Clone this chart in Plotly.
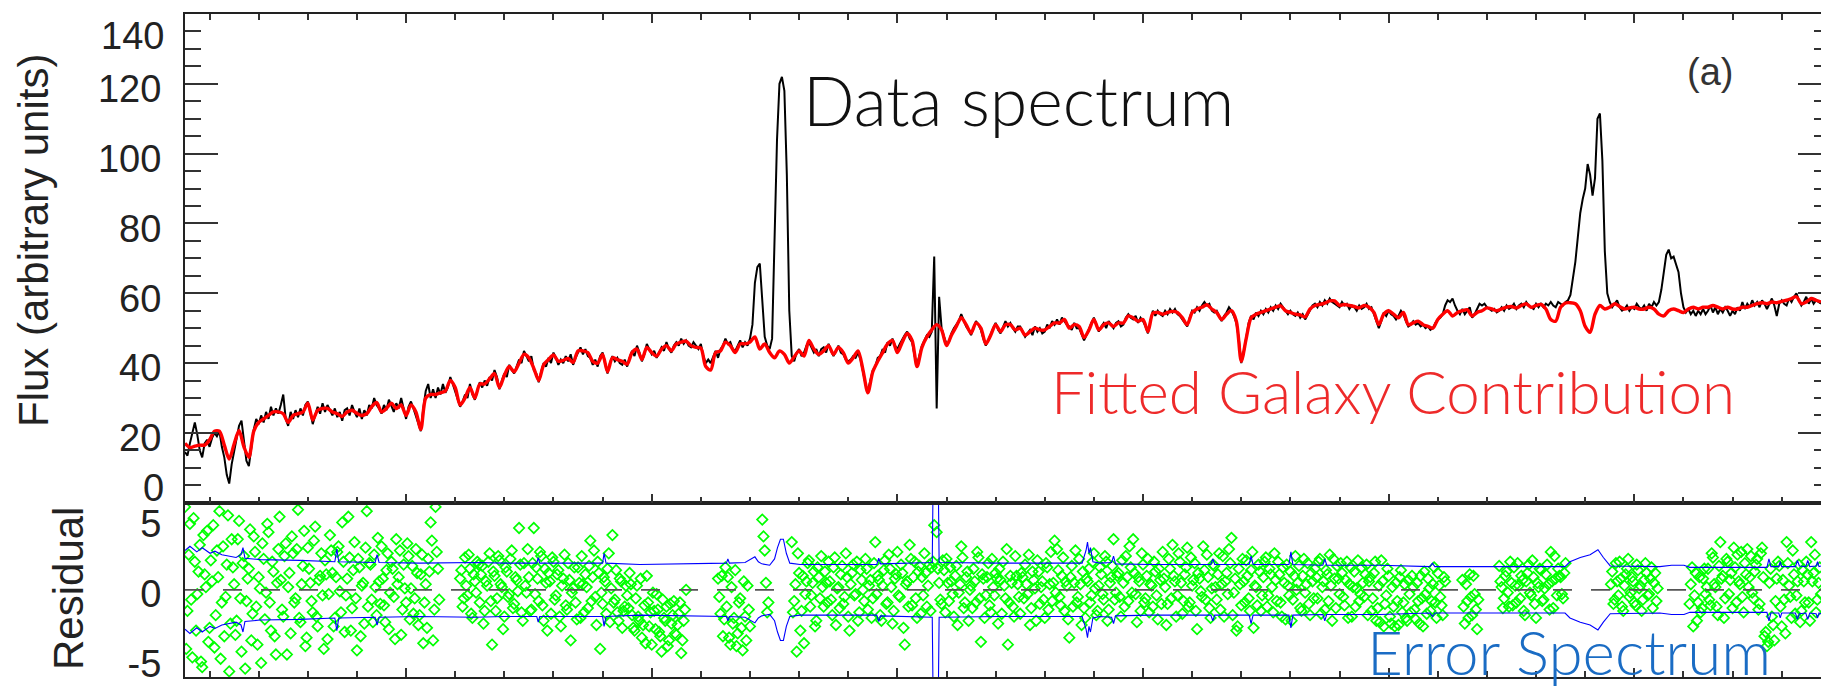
import plotly.graph_objects as go

# ---------------- data ----------------
wave_data = list(range(4050, 7381, 5))     # wavelength grid of the data / residuals (A)
wave_model = list(range(4050, 7381, 10))   # wavelength grid of the fitted galaxy model (A)
wave_resid_b = [w + 2.5 for w in wave_data[:-1]]   # interleaved residual pixels

data_flux = [
    14.5, 13.5, 17, 20, 23, 19.5, 15, 13, 17, 18, 16, 18.5, 20, 19, 20.5, 16, 13, 8, 5.5, 11,
    15, 19, 22, 23.5, 18, 12, 10.5, 16, 21, 24, 22.5, 25, 23, 26, 24, 27.5, 25, 27, 25.5, 28,
    31, 24, 22, 26, 24, 26.5, 24.5, 27, 25, 28, 29, 26, 22.5, 25, 27.5, 25.5, 28.5, 26, 28, 26.5,
    25, 27, 24.5, 26, 23.5, 26.5, 27, 25, 28, 26, 24.5, 27, 24, 26.5, 25, 28, 27, 30, 28, 27,
    25.5, 28, 26.5, 29.5, 28, 26, 28.5, 27, 30, 27, 24, 27.5, 29, 27, 25, 23, 20.5, 27, 32, 34,
    30, 32.5, 30, 33, 31, 34, 31.5, 33, 36, 34, 32, 30, 27.5, 29, 31, 30, 34, 31, 29.5, 32,
    34.5, 33, 35, 33.5, 36, 35, 38, 36, 32.5, 35, 37, 36, 39.5, 38, 37, 39, 41, 40, 43.5, 42,
    40.5, 42, 38, 37, 34.5, 37.5, 40, 39, 41.5, 40, 43, 41.5, 39.5, 41, 40, 42, 40.5, 42.5, 39.5, 41.5,
    43, 44.5, 42.5, 44, 42, 41.5, 39.5, 41, 39, 42, 43, 40, 37, 40, 42, 40.5, 41.5, 40, 39.5, 41,
    39, 41.5, 43.5, 42, 45, 43, 40.5, 42.5, 45.5, 44, 42.5, 43.5, 41.5, 43, 44.5, 43.5, 46, 44, 43, 45,
    46, 45, 47, 45.5, 46.5, 45, 44.5, 46, 45, 44, 45.5, 42, 40, 41, 40, 42, 43.5, 41.5, 44, 45,
    47, 45.5, 46, 44, 43.5, 45, 46.5, 44.5, 46, 45, 47, 51, 63, 67.5, 68.5, 58, 47.5, 45, 44, 47,
    74, 104, 120, 122, 118, 94, 55, 42, 40.5, 43, 44, 42, 43, 45, 46, 44.5, 43, 44, 42, 44,
    44.5, 43, 45.5, 43.5, 42, 43.5, 45, 43, 42.5, 41, 40.5, 41, 42, 41.5, 43, 41, 37, 34, 32, 35,
    38, 39, 41.5, 42, 44, 43, 46, 45, 47, 45, 44, 45.5, 47, 48, 49, 47, 46, 42, 39.5, 42,
    45, 46.5, 48, 47.5, 49, 70.5, 27, 59, 50, 47.5, 45.5, 46, 48.5, 50, 51, 52, 54, 52, 50.5, 49.5,
    48, 50, 52, 51, 49.5, 47, 45, 46.5, 48.5, 50, 51.5, 49.5, 48.5, 50, 52, 50.5, 51.5, 50, 49, 50.5,
    50.5, 49, 47.5, 48.5, 49.5, 48, 50.5, 49, 50, 48.5, 49, 51, 50, 52, 51, 52.5, 51, 53, 52, 51,
    50.5, 49.5, 51.5, 50, 50, 48.5, 46.5, 48, 50, 51.5, 53, 51, 49, 50.5, 51.5, 50, 52, 51, 50, 51.5,
    52, 50.5, 51, 53, 54, 53, 52.5, 53.5, 51.5, 53, 52, 50.5, 48.5, 52, 55, 53.5, 55, 54, 53.5, 55,
    54, 55.5, 54.5, 55.5, 54, 53.5, 52.5, 51.5, 50.5, 53, 55, 54.5, 56, 55, 56.5, 57.5, 56.5, 57, 55, 54.5,
    55, 53.5, 52, 53.5, 54.5, 56, 55, 53.5, 51.5, 47, 40, 43, 48, 51.5, 53.5, 52.5, 54.5, 53.5, 55, 54,
    55.5, 54.5, 56, 55, 56.5, 55.5, 57, 56, 55, 54, 55, 54, 53.5, 54.5, 53, 54, 52.5, 54, 55.5, 56.5,
    57, 56, 57.5, 56.5, 58, 57, 58.5, 57.5, 57, 56.5, 56, 57.5, 56.5, 57, 55.5, 56.5, 56, 55, 56.5, 55.5,
    56, 57, 55.5, 56, 54, 52.5, 50, 52, 54.5, 53.5, 55, 54, 53.5, 52.5, 53.5, 55, 54, 52, 50.5, 51,
    52, 51, 51.5, 50.5, 51, 50, 50.5, 49.5, 50, 51.5, 52.5, 53, 54, 56.5, 58, 57.5, 58.5, 56.5, 55, 54,
    55.5, 54, 55, 56, 53, 54, 55.5, 57, 56.5, 57, 56, 55.5, 55, 55.5, 54.5, 55, 56, 55, 56.5, 55.5,
    56, 57, 55.5, 56.5, 57, 56, 57.5, 56.5, 56, 55.5, 57, 56, 57, 56, 57, 56.5, 57.5, 56.5, 56, 57.5,
    57, 56.5, 57.5, 58, 59.5, 64, 69, 76, 83, 87, 90, 97, 94, 88, 93, 110, 111.5, 98, 72, 60,
    57.5, 56, 57, 58, 56, 55, 55.5, 56.5, 55, 56, 55.5, 57, 56, 55.5, 56.5, 55, 57, 56, 57.5, 56.5,
    57.5, 61, 66, 71, 72.5, 70, 70.5, 68.5, 66, 60, 56, 54.5, 55.5, 54, 55, 53.5, 55, 54, 55.5, 54,
    55, 56.5, 54.5, 56, 54, 55.5, 54.5, 56, 55, 53.5, 55, 54, 56, 55, 57.5, 55.5, 57, 56, 58, 56.5,
    57.5, 56, 58, 57, 55.5, 57, 58.5, 56.5, 53.5, 57, 58, 57, 56.5, 58.5, 57.5, 59, 60, 58, 56.5, 57.5,
    59, 57, 58.5, 57, 58, 57.5, 57,
]

model_flux = [
    17.0, 15.8, 16.2, 16.5, 16.5, 18.0, 20.5, 20.5, 16.5, 12.5,
    16.8, 20.7, 16.0, 13.0, 20.5, 23.0, 24.0, 25.0, 26.0, 26.0,
    25.5, 23.0, 25.0, 25.5, 26.0, 28.5, 23.7, 26.5, 27.0, 27.0,
    26.0, 25.5, 24.7, 26.0, 26.5, 25.6, 25.0, 25.5, 27.5, 28.7,
    26.0, 27.0, 28.5, 27.0, 28.0, 25.0, 28.0, 26.0, 21.0, 30.0,
    31.0, 31.0, 31.5, 32.0, 35.0, 33.0, 28.0, 30.0, 33.0, 30.0,
    34.0, 34.0, 35.5, 37.0, 33.0, 36.5, 39.0, 37.5, 40.0, 42.5,
    41.5, 38.5, 35.0, 39.5, 41.0, 42.3, 40.5, 40.8, 41.3, 40.2,
    43.5, 43.5, 43.0, 40.5, 40.0, 42.5, 37.5, 41.5, 41.0, 40.5,
    39.7, 43.0, 44.0, 41.0, 44.5, 43.0, 42.0, 44.0, 45.0, 43.5,
    45.5, 46.0, 46.3, 45.0, 44.5, 44.3, 39.0, 38.0, 43.0, 43.5,
    46.0, 45.0, 43.0, 45.5, 45.5, 46.0, 47.5, 44.0, 45.5, 43.0,
    41.5, 43.5, 42.5, 40.0, 41.8, 43.5, 42.0, 46.5, 44.0, 42.5,
    43.5, 45.0, 42.5, 44.5, 43.0, 40.0, 41.5, 43.5, 38.0, 31.5,
    37.5, 40.5, 43.0, 45.5, 46.5, 43.0, 46.0, 48.5, 46.5, 39.0,
    44.5, 47.5, 49.5, 51.0, 49.5, 45.0, 48.0, 50.5, 53.0, 51.0,
    48.6, 51.5, 50.0, 45.5, 48.0, 51.0, 49.0, 51.0, 51.0, 49.5,
    50.0, 48.0, 49.0, 50.0, 49.5, 49.5, 50.5, 51.5, 51.5, 52.5,
    50.0, 51.0, 50.5, 47.3, 49.5, 52.5, 49.5, 51.0, 51.5, 50.5,
    51.5, 51.5, 53.5, 53.0, 52.0, 52.5, 49.0, 54.3, 54.5, 54.0,
    54.5, 54.8, 54.5, 53.0, 51.0, 54.5, 55.5, 56.0, 56.7, 55.5,
    54.5, 52.5, 54.0, 55.0, 52.0, 40.5, 47.0, 53.0, 54.0, 54.5,
    55.0, 55.5, 56.0, 56.4, 55.0, 54.5, 54.0, 53.8, 53.2, 55.5,
    56.5, 56.8, 57.2, 57.8, 57.8, 56.5, 56.8, 56.5, 56.2, 55.8,
    56.5, 56.0, 54.5, 51.0, 54.0, 55.0, 54.0, 53.0, 54.5, 51.0,
    51.5, 52.0, 51.0, 50.5, 50.0, 52.5, 54.0, 55.0, 53.5, 54.5,
    55.0, 55.3, 53.5, 54.5, 55.0, 55.8, 55.5, 55.0, 55.5, 56.0,
    56.2, 55.8, 56.5, 57.0, 56.0, 56.5, 56.8, 55.5, 52.5, 52.0,
    56.0, 57.2, 57.3, 57.0, 55.0, 50.5, 48.8, 54.0, 56.5, 55.5,
    56.0, 57.0, 56.2, 55.5, 55.8, 56.0, 55.5, 55.5, 56.0, 55.5,
    54.0, 53.5, 55.0, 55.5, 55.0, 54.5, 55.5, 56.0, 55.5, 56.0,
    56.0, 56.5, 56.0, 55.5, 56.0, 55.5, 55.5, 56.0, 56.0, 56.5,
    57.0, 57.3, 57.0, 57.5, 57.3, 57.7, 58.0, 58.5, 59.0, 57.0,
    57.5, 58.5, 58.0, 57.5,
]

residual = [
    5.9, -1.5, 4.7, -4.8, 2.0, -0.3, 3.2, -5.5, 1.1, 4.2, -2.7, 0.6, -4.1, 2.8, 5.6, -0.9, -3.3, 1.8, -5.8, 3.6,
    0.4, -2.2, 4.9, -4.4, 2.4, -0.8, 1.5, -3.6, 3.8, -1.2, 0.9, -5.2, 2.2, -0.2, 4.1, -2.9, 1.3, -4.6, 2.9, 0.7,
    -1.9, 3.3, 0.2, -3.1, 2.6, -0.6, 5.7, -2.3, 1.7, -4.0, 3.0, 0.5, -1.6, 4.5, -2.6, 1.0, -0.4, 2.1, -3.5, 3.9,
    1.2, -2.0, 2.7, -0.1, 4.8, -3.0, 0.8, 2.3, -1.3, 3.4, -4.3, 1.6, 0.3, -2.4, 5.6, 1.9, -0.7, 2.5, -1.8, 0.6,
    3.1, -1.1, 1.4, -2.8, 2.0, -0.5, 3.6, 0.9, -3.2, 1.8, -0.9, 2.4, 0.1, -1.7, 2.9, -2.5, 1.1, -3.8, 0.4, 2.2,
    4.8, -3.6, 5.9, 1.5, None, None, None, None, None, None, None, None, 0.8, -1.2, 2.3, -0.4, 1.5, -2.0, 0.6, 2.0,
    -0.9, 1.7, -1.5, 0.3, 2.6, -3.9, 1.0, -0.6, 2.1, 0.2, -1.9, 1.3, -0.3, 2.8, -1.0, 0.7, 4.4, -1.6, 1.9, -0.2,
    0.9, -1.4, 4.4, 1.6, -0.8, 2.4, -2.2, 0.5, 1.2, -1.7, 2.0, -0.4, 1.4, -2.6, 0.8, -1.1, 1.9, -3.6, 0.1, -0.9,
    1.6, -2.0, 0.4, 1.1, -1.3, 3.5, 0.9, -0.5, 2.0, -4.2, -1.0, 0.6, 1.5, -2.3, 3.9, -0.7, -1.6, 0.8, -2.7, -1.2,
    -0.4, 1.2, -1.8, -2.9, 0.3, -2.2, -3.4, -1.1, 1.0, -2.6, -3.9, -1.5, -0.3, -3.0, -4.4, -2.0, -1.2, -3.6, -2.4, -0.8,
    -3.2, -1.7, -4.5, -2.2, 0.0, None, None, None, None, None, None, None, None, None, None, None, None, 0.8, -1.7, -3.3,
    1.6, 0.9, -3.9, -2.4, 1.4, -3.1, -0.6, -4.3, -1.9, 0.3, -2.6, None, None, None, None, 5.0, 2.8, -1.6, None, None,
    None, None, None, None, None, None, None, 3.4, -0.8, -4.4, 1.2, -1.5, -3.8, 0.6, 2.1, -0.4, 1.3, -2.2, 0.9, 2.4,
    -1.2, 0.5, 2.0, -0.7, 1.6, -2.5, 0.2, 1.1, -1.0, 2.6, -1.9, 0.4, 1.8, -0.3, -2.2, 1.4, 0.0, 2.2, -1.4, 0.7,
    -0.6, 3.4, 1.0, -1.8, 0.3, 2.1, -0.9, 1.5, -2.4, 0.8, 2.7, -0.5, 1.2, -3.9, 0.6, 3.2, -1.1, 2.0, -2.0, 1.7,
    0.9, 2.6, -1.2, 1.8, 1.6, 4.6, 4.1, 0.5, -1.0, 1.4, 2.2, -0.8, 0.6, -1.9, 1.7, -0.2, 3.1, -1.3, 0.9, -2.2,
    0.3, 1.5, -0.9, 2.3, -3.7, 0.8, -0.4, 1.9, -1.6, 0.2, 1.2, -2.4, 0.7, 2.0, -0.6, -3.9, 1.0, -1.2, 2.4, 0.4,
    -1.7, 0.9, 1.8, -0.3, -2.5, 1.3, 0.1, 2.1, -1.0, 0.6, -2.0, 1.6, 0.4, -0.8, 3.5, 2.9, -0.5, 1.0, -1.5, 0.3,
    -3.4, 1.7, 0.5, -0.9, 2.2, -2.5, -1.3, 0.8, 1.5, -0.4, 2.6, -1.8, 0.3, 1.1, -0.7, 2.0, -1.4, 0.9, 3.6, -0.2,
    1.2, -1.9, 0.5, 2.4, -0.8, 1.6, 3.6, -0.3, 0.9, -1.5, 1.8, -0.6, 2.2, 0.4, -1.2, 1.3, -2.1, 0.7, 2.7, 0.2,
    -1.0, 1.5, 3.2, 0.6, -0.4, 2.0, -1.7, 1.1, 3.0, -0.9, 0.3, 1.9, -2.8, 0.8, -0.5, 1.4, 2.5, -1.3, 0.1, 1.7,
    -0.7, 2.6, 0.4, -1.9, 1.2, 2.9, 3.7, -0.2, -2.9, 1.5, -1.1, 0.6, 2.1, -0.6, 1.4, -2.7, 0.2, 1.8, -1.5, 0.9,
    2.3, -0.4, 1.1, -1.6, 0.7, 2.0, -0.9, 1.6, -2.1, 0.3, 1.3, -0.7, 2.4, 0.5, -1.3, 1.0, -0.2, 1.9, -1.8, 0.6,
    1.5, -0.6, 2.2, 0.2, -1.4, 1.1, 2.5, -2.2, 0.8, 1.7, -0.3, 1.2, -1.1, 2.0, 0.4, -1.9, 1.3, 0.1, -0.8, 1.6,
    -0.5, 1.8, 0.6, -1.5, 1.2, -2.2, 0.3, 2.1, -2.6, -0.4, 1.0, -2.4, -1.2, 0.5, -2.5, 1.4, -0.9, -2.0, 0.7, -1.6,
    0.2, -2.1, -0.8, 1.0, -2.6, -0.3, 0.8, -1.5, 0.4, -0.9, 1.2, -0.5, -1.8, 0.6, None, None, None, None, None, None,
    0.7, -2.4, -0.8, 1.1, -1.8, -0.3, -2.8, None, None, None, None, None, None, None, None, 1.7, 0.2, -0.6, 1.3, -1.2,
    0.5, 1.6, -0.9, 0.3, 1.0, -1.5, 0.6, 1.8, -0.4, 0.9, -2.0, 0.2, 1.4, -0.7, 1.1, 0.4, 2.7, -1.3, 0.8, 1.5,
    0.9, -0.6, 1.9, None, None, None, None, None, None, None, None, None, None, None, None, None, None, None, None, None,
    None, 1.3, -0.7, 0.6, 2.0, -1.2, 0.3, 1.5, -0.5, 0.9, -0.9, 1.8, 0.1, -1.5, 0.7, 1.2, -0.3, 1.6, 0.5, -0.8,
    None, None, None, None, None, None, None, None, None, None, None, None, None, 0.4, -2.6, 1.2, -0.9, -1.6, 0.8, -0.3,
    1.5, -1.1, 2.3, 0.2, -1.8, 3.4, 1.0, -0.6, 2.0, 0.7, -1.3, 1.6, 2.5, 0.4, -0.5, 1.9, 2.9, 0.9, -0.2, 1.3,
    2.2, -1.0, 3.0, -3.3, -4.0, 0.5, -1.9, -3.6, 0.8, 1.7, -2.6, -0.7, 3.4, 0.3, -2.0, 1.1, -0.4, 1.8, -1.5, 0.6,
    2.0, -0.9, 3.4, 1.2, -1.6, 0.5, -0.3,
]

residual_b = [
    -4.2, 2.5, -0.7, 5.1, -2.9, 1.3, -5.1, 3.9, 0.2, -3.7, 2.1, 4.6, -1.8, 0.9, -4.9, 3.1, -0.5, 5.3, -2.4, 1.6,
    -3.2, 3.6, -0.6, 1.9, -5.6, 0.8, 4.3, -1.7, 2.7, -3.9, 0.1, 3.3, -2.1, 4.7, -0.9, 2.0, -3.3, 0.5, 5.2, -1.4,
    2.4, -4.6, 1.2, 3.8, -0.9, 2.9, -2.0, 0.4, 4.2, -3.4, 1.5, -0.8, 3.5, -1.9, 0.7, 2.6, -4.2, 1.1, -0.3, 2.8,
    -2.6, 0.9, 3.1, -1.6, 2.0, -0.4, 5.2, -2.9, 1.4, -0.6, 2.2, -3.3, 0.5, 3.0, -1.2, 1.8, -2.3, 0.2, 3.7, -1.0,
    0.8, -2.3, 2.6, -0.2, 1.5, -3.5, 0.4, 2.8, -1.4, 0.1, 3.3, -2.1, 1.7, -0.6, 1.2, -1.8, 2.5, -0.9, -2.7, 1.3,
    3.5, -1.4, 2.7, -0.7, None, None, None, None, None, None, None, None, 1.4, -0.6, 0.3, 2.5, -1.7, 1.1, -0.2, 1.8,
    1.1, -2.4, 0.6, 2.0, -0.8, 1.3, -1.5, 2.4, 0.4, -2.8, 1.6, -0.5, 2.2, -1.3, 0.9, -0.1, 1.8, -2.2, 0.3, 2.9,
    -1.5, 1.9, -0.3, 0.8, 2.7, -1.1, 1.5, -2.9, 0.6, 2.3, -0.7, 1.1, -1.9, 0.3, 2.5, -1.4, 0.7, -0.2, 1.6, -2.1,
    0.5, 2.4, -1.6, 0.2, 1.7, -0.8, 2.8, -2.5, 1.2, -0.2, 0.9, -1.7, 2.6, 0.1, -0.9, 1.4, -2.2, 0.6, -1.5, 0.3,
    -1.3, 0.4, -2.7, -0.6, -1.9, 0.8, -2.5, -3.8, -0.9, -1.6, -0.2, -2.8, -1.4, -3.3, -0.7, -2.2, -4.0, -1.0, -1.8, -3.1,
    -2.5, -0.9, -3.6, -1.4, None, None, None, None, None, None, None, None, None, None, None, None, None, -0.5, 1.0, -2.1,
    -1.2, -3.4, 0.2, -2.0, -4.0, -0.9, -2.7, 0.6, -3.6, -1.4, None, None, None, None, None, 3.8, 0.5, -0.9, None, None,
    None, None, None, None, None, None, None, -1.6, 0.4, 2.6, -2.9, 1.0, -0.3, 1.9, -1.2, 0.5, -2.6, 1.6, -0.6, 0.2,
    1.3, -0.9, 0.6, -1.8, 2.3, 0.1, -1.3, 1.7, -0.5, 0.9, -2.9, 1.2, -0.4, 2.0, -1.6, 0.7, -0.8, 1.5, 0.3, -2.0,
    1.9, -0.3, 0.7, -2.2, 1.4, -1.0, 2.5, 0.2, -1.5, 1.1, -0.4, 1.8, -2.7, 0.4, -1.2, 2.2, 0.9, -0.6, 1.3, -1.7,
    -0.4, 1.2, 0.3, -1.5, 2.0, None, 1.5, -0.7, 2.1, -1.6, 0.5, 1.6, -0.3, 1.0, -2.5, 0.4, 2.3, -0.9, 1.3, 0.0,
    -1.3, 0.6, 2.7, -0.6, 1.1, -2.0, 0.9, -1.1, 2.2, -0.4, 0.8, 1.5, -1.7, 0.3, 2.9, -0.9, 0.5, -1.9, 1.0, -0.5,
    1.2, -0.6, 0.4, 2.5, -1.3, 0.7, -2.2, 1.3, 0.2, -0.7, 1.9, -1.4, 2.7, 0.5, -0.2, 1.4, -1.1, 2.3, 0.6, -2.1,
    0.9, -1.2, 2.8, -0.5, 0.4, 1.3, -2.0, 0.6, -0.9, 2.0, 0.1, -1.5, 1.6, -0.3, 2.4, -2.2, 0.5, 1.7, -0.7, 1.0,
    -0.5, 2.1, -1.2, 0.9, 3.1, -0.2, 1.2, -2.3, 0.6, 2.6, -0.9, 1.0, -1.6, 0.3, 2.0, -0.4, 1.5, -1.0, 0.8, -2.5,
    2.2, -0.6, 1.0, -1.9, 2.6, 0.5, -0.8, 1.6, -1.2, 2.3, 0.7, -1.5, 1.2, -0.1, 3.1, -0.7, 0.9, -2.0, 1.8, 0.2,
    1.1, -1.4, 2.4, 0.6, -0.3, 1.9, -1.8, 0.8, -2.6, 0.4, 2.2, -0.9, 1.0, -1.5, 2.7, 0.3, -1.1, 1.3, -0.4, 2.0,
    -1.2, 1.5, 0.2, 2.6, -0.8, 1.1, -1.9, 0.5, 1.8, -0.4, -2.2, 1.0, 0.0, 1.7, -1.5, 2.2, 0.4, -1.0, 1.2, -0.6,
    0.9, 2.0, -1.7, 0.6, 1.4, -0.8, 0.3, 2.2, -1.3, 0.8, 1.9, -0.5, 0.7, -2.0, 1.6, 0.2, -1.2, 2.1, -0.3, 0.5,
    1.1, -1.8, 0.9, -0.6, 2.0, -1.3, -2.3, 0.6, -1.0, 1.5, -1.9, 0.2, -2.6, -0.8, 0.9, -1.6, 0.4, -2.2, -0.3, 1.0,
    -1.4, 0.5, -2.4, -0.6, 1.3, -1.7, 0.1, -0.8, 1.6, -2.0, 0.3, -1.1, 0.9, None, None, None, None, None, None, None,
    -1.2, 0.4, -2.0, -0.5, 1.0, -1.4, -0.7, None, None, None, None, None, None, None, None, 0.6, -1.3, 1.0, -0.2, 2.0,
    -1.1, 0.3, 1.9, -0.6, 0.7, -1.8, 1.2, -0.2, 2.1, -1.0, 0.5, 1.5, -0.8, 0.1, 1.8, -1.4, 0.6, 2.4, -0.4, 1.0,
    -0.3, 1.2, None, None, None, None, None, None, None, None, None, None, None, None, None, None, None, None, None, None,
    0.4, -1.0, 1.9, -0.4, 0.8, -1.5, 1.1, 2.2, -0.2, 0.6, -1.1, 1.4, 0.3, -0.7, 1.9, -0.4, 0.8, -1.3, 1.2, 0.1,
    None, None, None, None, None, None, None, None, None, None, None, None, -1.0, 1.6, -0.4, -2.2, 0.9, -1.3, 1.5, 0.2,
    -0.7, 2.6, 0.4, -1.2, 1.7, 0.8, -2.0, 2.2, -0.3, 1.2, 3.0, -0.9, 0.6, 2.7, -1.6, 1.1, 0.2, 2.4, -0.6, 1.8,
    -1.4, 2.6, 0.9, -3.0, -3.7, 1.5, -2.5, -0.8, 2.0, -1.2, 0.7, -3.1, 1.9, -0.5, 2.8, -1.7, 0.6, -2.3, 1.4, -0.9,
    1.1, -2.2, 0.6, 2.5, -0.7, 1.6,
]

err_wave = [4050, 4060, 4074, 4085, 4101, 4111, 4125, 4138, 4154, 4164, 4168, 4172, 4203, 4284,
            4355, 4359, 4363, 4437, 4441, 4445, 4528, 4640, 4700, 4766, 4769, 4772, 4860, 4900,
            4903, 4907, 4976, 5098, 5152, 5155, 5158, 5190, 5203, 5210, 5217, 5224, 5240, 5250,
            5256, 5262, 5268, 5274, 5281, 5302, 5458, 5462, 5466, 5556, 5571, 5574, 5582, 5585,
            5709, 5876, 5884, 5887, 5890, 5893, 5898, 5912, 5936, 5940, 5944, 6014, 6138, 6142,
            6146, 6216, 6220, 6224, 6297, 6301, 6305, 6366, 6370, 6374, 6482, 6584, 6589, 6594,
            6727, 6859, 6869, 6890, 6910, 6926, 6937, 6951, 7052, 7076, 7101, 7113, 7215, 7270,
            7274, 7278, 7294, 7297, 7300, 7328, 7332, 7336, 7349, 7353, 7357, 7370, 7373, 7376, 7380]
err_val = [2.8, 3.1, 2.7, 3.0, 2.6, 2.75, 2.5, 2.4, 2.3, 2.5, 3.0, 2.25, 2.15, 2.1,
           2.0, 2.9, 2.0, 1.95, 2.5, 1.95, 1.9, 1.95, 1.9, 1.9, 2.3, 1.9, 1.9, 1.9,
           2.6, 1.9, 1.8, 1.85, 1.9, 2.2, 1.9, 1.95, 2.2, 2.35, 2.0, 1.85, 1.75, 2.2,
           3.0, 3.6, 3.6, 2.6, 1.9, 1.8, 1.8, 2.25, 1.85, 1.9, 1.95, 12.0, 12.0, 1.95,
           1.9, 1.9, 2.8, 3.4, 2.6, 3.0, 2.0, 1.9, 1.95, 2.4, 1.85, 1.8, 1.8, 2.2,
           1.8, 1.8, 2.4, 1.8, 1.8, 2.7, 1.8, 1.75, 2.2, 1.75, 1.75, 1.65, 1.9, 1.65,
           1.65, 1.65, 2.0, 2.3, 2.5, 2.85, 2.3, 1.7, 1.65, 1.75, 1.75, 1.6, 1.6, 1.6,
           2.2, 1.65, 1.65, 2.0, 1.65, 1.65, 2.1, 1.7, 1.65, 2.1, 1.65, 1.7, 2.0, 1.65, 1.7]

flux_ticks = [20, 40, 60, 80, 100, 120]
flux_edge_ticks = [0, 140]
resid_ticks = [5, 0, -5]
resid_ticktext = ["5", "0", "-5"]

assert len(data_flux) == len(wave_data), len(data_flux)
assert len(residual) == len(wave_data), len(residual)
assert len(residual_b) == len(wave_resid_b), len(residual_b)
assert len(model_flux) == len(wave_model), len(model_flux)
assert len(err_wave) == len(err_val), (len(err_wave), len(err_val))

# ---------------- layout geometry ----------------
W, H = 1822, 690
ML, MR, MT, MB = 185, 1, 14, 13
PW, PH = W - ML - MR, H - MT - MB
SPLIT = (H - MB - 502.7) / PH          # bottom of the flux panel (paper units)


def px(x):
    return (x - ML) / PW


def py(y):
    return (H - MB - y) / PH


AXFONT = dict(family="Liberation Sans, Arial, sans-serif", size=38, color="#222")
TXTFONT = "Lato, Open Sans, sans-serif"
XR = [wave_data[0], wave_data[-1]]
GREEN = "#00ff00"

fig = go.Figure()

# flux panel
fig.add_trace(go.Scatter(x=wave_data, y=data_flux, xaxis="x2", yaxis="y2", mode="lines",
                         line=dict(color="black", width=2.0), hoverinfo="skip"))
fig.add_trace(go.Scatter(x=wave_model, y=model_flux, xaxis="x2", yaxis="y2", mode="lines",
                         line=dict(color="#ff0000", width=3.4, shape="spline", smoothing=0.8),
                         hoverinfo="skip"))
# dummy trace to realise the right-hand tick axis
fig.add_trace(go.Scatter(x=XR, y=[0, 0], xaxis="x2", yaxis="y3", mode="lines",
                         line=dict(width=0), hoverinfo="skip"))

# residual panel
for xs, ys in ((wave_data, residual), (wave_resid_b, residual_b)):
    fig.add_trace(go.Scatter(x=xs, y=ys, xaxis="x", yaxis="y", mode="markers",
                             marker=dict(symbol="diamond-open", size=8, color=GREEN,
                                         line=dict(width=1.7, color=GREEN)),
                             hoverinfo="skip"))
fig.add_trace(go.Scatter(x=err_wave, y=err_val, xaxis="x", yaxis="y", mode="lines",
                         line=dict(color="#0000ff", width=1.1), hoverinfo="skip"))
fig.add_trace(go.Scatter(x=err_wave, y=[-v for v in err_val], xaxis="x", yaxis="y", mode="lines",
                         line=dict(color="#0000ff", width=1.1), hoverinfo="skip"))
fig.add_trace(go.Scatter(x=XR, y=[0, 0], xaxis="x", yaxis="y", mode="lines",
                         line=dict(color="#555", width=1.6, dash="19px,19px"), hoverinfo="skip"))

xcommon = dict(range=XR, tickmode="linear", tick0=4500, dtick=500, ticks="inside", ticklen=9,
               tickwidth=1.5, tickcolor="#333", showticklabels=False, showline=True,
               linecolor="#222", linewidth=2, showgrid=False, zeroline=False,
               minor=dict(tickmode="linear", tick0=4000, dtick=100, ticks="inside", ticklen=6,
                          tickwidth=1.5, tickcolor="#333"))

fig.update_layout(
    width=W, height=H, margin=dict(l=ML, r=MR, t=MT, b=MB),
    paper_bgcolor="white", plot_bgcolor="white", showlegend=False,
    xaxis=dict(domain=[0, 1], anchor="y", mirror=True, **xcommon),
    xaxis2=dict(domain=[0, 1], anchor="y2", matches="x", mirror="ticks", **xcommon),
    yaxis=dict(domain=[0, SPLIT], anchor="x", range=[-6.2, 6.2], tickmode="array",
               tickvals=resid_ticks, ticktext=resid_ticktext, ticks="", showline=True,
               linecolor="#222", linewidth=2, mirror=False, showgrid=False, zeroline=False,
               tickfont=AXFONT, ticklabelshift=4, ticklabelstandoff=14),
    yaxis2=dict(domain=[SPLIT, 1], anchor="x2", range=[0, 140], tickmode="array",
                tickvals=flux_ticks, ticktext=[str(v) for v in flux_ticks], ticks="inside",
                ticklen=33, tickwidth=1.5, tickcolor="#333", showline=True, linecolor="#222",
                linewidth=2, mirror=False, showgrid=False, zeroline=False, tickfont=AXFONT,
                ticklabelshift=5, ticklabelstandoff=14,
                minor=dict(tickmode="linear", tick0=0, dtick=5, ticks="inside", ticklen=16,
                           tickwidth=1.5, tickcolor="#333")),
    yaxis3=dict(overlaying="y2", anchor="x2", side="right", range=[0, 140], tickmode="linear",
                tick0=0, dtick=20, ticks="inside", ticklen=23, tickwidth=1.5, tickcolor="#333",
                showticklabels=False, showline=False, showgrid=False, zeroline=False,
                minor=dict(tickmode="linear", tick0=0, dtick=5, ticks="inside", ticklen=7,
                           tickwidth=1.5, tickcolor="#333")),
)

ann = []
# edge labels of the flux axis (0 and 140), drawn inset as in the original
for val, shift in zip(flux_edge_ticks, [15, -22]):
    ann.append(dict(x=px(166), xref="paper", xanchor="right", y=val, yref="y2", yanchor="middle",
                    yshift=shift, text=str(val), showarrow=False, font=AXFONT))
ann += [
    dict(x=px(33), y=py(241), xref="paper", yref="paper", text="Flux (arbitrary units)",
         textangle=-90, showarrow=False, xanchor="center", yanchor="middle",
         font=dict(family="Liberation Sans, Arial, sans-serif", size=42, color="#222")),
    dict(x=px(68), y=py(589), xref="paper", yref="paper", text="Residual",
         textangle=-90, showarrow=False, xanchor="center", yanchor="middle",
         font=dict(family="Liberation Sans, Arial, sans-serif", size=42, color="#222")),
    dict(x=px(1710), y=py(72), xref="paper", yref="paper", text="(a)", showarrow=False,
         xanchor="center", yanchor="middle",
         font=dict(family="Liberation Sans, Arial, sans-serif", size=38, color="#333")),
    dict(x=px(801), y=py(100), xref="paper", yref="paper", text="Data spectrum", showarrow=False,
         xanchor="left", yanchor="middle", font=dict(family=TXTFONT, size=68, color="#111", weight=300)),
    dict(x=px(1049), y=py(391), xref="paper", yref="paper", text="Fitted Galaxy Contribution",
         showarrow=False, xanchor="left", yanchor="middle",
         font=dict(family=TXTFONT, size=60, color="#ee2a2a", weight=300)),
    dict(x=px(1365), y=py(651), xref="paper", yref="paper", text="Error Spectrum",
         showarrow=False, xanchor="left", yanchor="middle",
         font=dict(family=TXTFONT, size=62, color="#1a6cc4", weight=300)),
]
fig.update_layout(annotations=ann)

fig.write_html("out.html")
